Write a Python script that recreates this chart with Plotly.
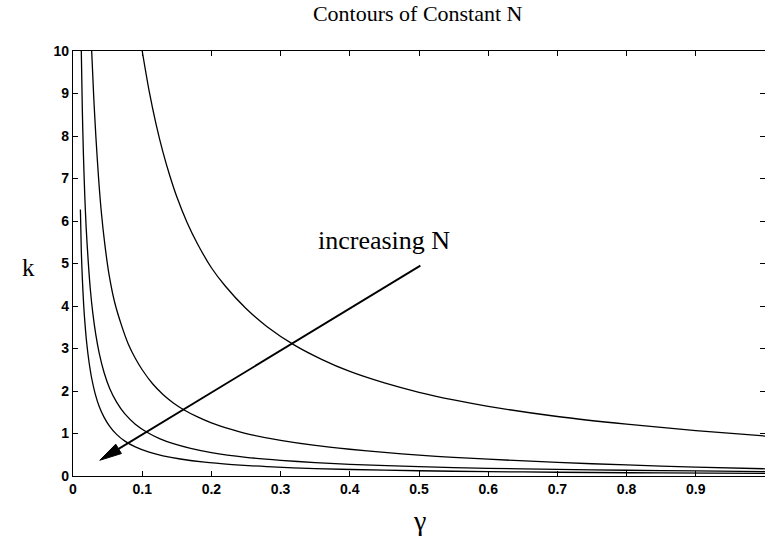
import plotly.graph_objects as go

# Contour curves (gamma, k)
gamma_A = [0.1, 0.11, 0.12, 0.13, 0.14, 0.15, 0.165, 0.18, 0.2, 0.22, 0.25, 0.28, 0.32, 0.36, 0.4, 0.45, 0.5, 0.55, 0.6, 0.7, 0.8, 0.9, 1.0]
k_A = [10, 9.06, 8.28, 7.62, 7.06, 6.57, 5.96, 5.46, 4.9, 4.47, 3.94, 3.52, 3.08, 2.74, 2.46, 2.19, 1.97, 1.79, 1.64, 1.4, 1.22, 1.07, 0.94]

gamma_C = [0.027, 0.03, 0.033, 0.037, 0.041, 0.046, 0.052, 0.06, 0.07, 0.08, 0.09, 0.1, 0.115, 0.13, 0.145, 0.16, 0.18, 0.2, 0.23, 0.26, 0.3, 0.35, 0.4, 0.45, 0.5, 0.55, 0.6, 0.7, 0.8, 0.9, 1.0]
k_C = [10, 8.9, 8.0, 7.0, 6.2, 5.45, 4.75, 4.1, 3.55, 3.1, 2.77, 2.5, 2.17, 1.92, 1.72, 1.56, 1.39, 1.25, 1.09, 0.96, 0.84, 0.72, 0.63, 0.555, 0.49, 0.44, 0.395, 0.32, 0.26, 0.21, 0.17]

gamma_D = [0.012, 0.0135, 0.015, 0.017, 0.019, 0.022, 0.025, 0.0285, 0.033, 0.038, 0.045, 0.053, 0.063, 0.075, 0.09, 0.107, 0.125, 0.145, 0.17, 0.2, 0.25, 0.3, 0.35, 0.4, 0.5, 0.6, 0.7, 0.8, 0.9, 1.0]
k_D = [10, 8.6, 7.6, 6.6, 5.85, 5.05, 4.4, 3.85, 3.32, 2.88, 2.43, 2.06, 1.74, 1.46, 1.22, 1.03, 0.88, 0.76, 0.65, 0.55, 0.44, 0.37, 0.315, 0.275, 0.22, 0.18, 0.155, 0.135, 0.12, 0.105]

gamma_E = [0.0107, 0.012, 0.0135, 0.0155, 0.0175, 0.02, 0.023, 0.027, 0.032, 0.038, 0.045, 0.053, 0.063, 0.075, 0.09, 0.11, 0.13, 0.155, 0.19, 0.23, 0.28, 0.35, 0.45, 0.55, 0.65, 0.75, 0.85, 1.0]
k_E = [6.27, 5.3, 4.65, 4.0, 3.55, 3.1, 2.7, 2.3, 1.94, 1.63, 1.38, 1.17, 0.98, 0.82, 0.685, 0.56, 0.475, 0.4, 0.325, 0.27, 0.22, 0.175, 0.137, 0.112, 0.095, 0.082, 0.073, 0.062]

arrow_tail = (0.502, 4.95)
arrow_head = (0.0387, 0.37)
label_pos = (0.449, 5.55)

x_ticks = [0, 0.1, 0.2, 0.3, 0.4, 0.5, 0.6, 0.7, 0.8, 0.9]
x_tick_labels = ["0", "0.1", "0.2", "0.3", "0.4", "0.5", "0.6", "0.7", "0.8", "0.9"]
y_ticks = [0, 1, 2, 3, 4, 5, 6, 7, 8, 9, 10]

W, H = 765, 548
ML, MR, MT, MB = 73, 0, 51, 72
X_RANGE = [0, 1]
Y_RANGE = [0, 10]
px_per_x = (W - ML - MR) / (X_RANGE[1] - X_RANGE[0])
px_per_y = (H - MT - MB) / (Y_RANGE[1] - Y_RANGE[0])

fig = go.Figure()
for gx, ky in [(gamma_A, k_A), (gamma_C, k_C), (gamma_D, k_D), (gamma_E, k_E)]:
    fig.add_trace(go.Scatter(x=gx, y=ky, mode="lines",
                             line=dict(color="black", width=1.3, shape="spline", smoothing=0.8),
                             showlegend=False, hoverinfo="skip", cliponaxis=True))

# Arrow: shaft + narrow filled head, geometry derived from arrow endpoints
dxp = (arrow_head[0] - arrow_tail[0]) * px_per_x
dyp = (arrow_head[1] - arrow_tail[1]) * px_per_y
L = (dxp ** 2 + dyp ** 2) ** 0.5
ux, uy = dxp / L, dyp / L
head_len, head_half = 22.0, 5.5
bx = arrow_head[0] - head_len * ux / px_per_x
by = arrow_head[1] - head_len * uy / px_per_y
p1 = (bx + head_half * (-uy) / px_per_x, by + head_half * ux / px_per_y)
p2 = (bx - head_half * (-uy) / px_per_x, by - head_half * ux / px_per_y)
fig.add_trace(go.Scatter(x=[arrow_tail[0], bx], y=[arrow_tail[1], by], mode="lines",
                         line=dict(color="black", width=1.8), showlegend=False, hoverinfo="skip"))
fig.add_trace(go.Scatter(x=[arrow_head[0], p1[0], p2[0], arrow_head[0]],
                         y=[arrow_head[1], p1[1], p2[1], arrow_head[1]],
                         mode="lines", fill="toself", fillcolor="black",
                         line=dict(color="black", width=1), showlegend=False, hoverinfo="skip"))

serif = "Liberation Serif"
fig.add_annotation(x=label_pos[0], y=label_pos[1], xref="x", yref="y", text="increasing N",
                   showarrow=False, xanchor="center", yanchor="middle",
                   font=dict(family=serif, size=26, color="black"))

fig.update_layout(
    width=W, height=H,
    margin=dict(l=ML, r=MR, t=MT, b=MB),
    paper_bgcolor="white", plot_bgcolor="white",
    title=dict(text="Contours of Constant N", x=0.546, xanchor="center", y=0.976, yanchor="middle",
               font=dict(family=serif, size=22, color="black")),
)
fig.update_xaxes(range=X_RANGE, tickvals=x_ticks, ticktext=x_tick_labels,
                 ticks="inside", ticklen=5, tickcolor="black", showline=True, linecolor="black",
                 linewidth=1.2, mirror="ticks", showgrid=False, zeroline=False,
                 tickfont=dict(family="Liberation Sans", size=14, color="black", weight="bold"))
fig.update_yaxes(range=Y_RANGE, tickvals=y_ticks,
                 ticks="inside", ticklen=5, tickcolor="black", showline=True, linecolor="black",
                 linewidth=1.2, mirror="ticks", showgrid=False, zeroline=False,
                 tickfont=dict(family="Liberation Sans", size=14, color="black", weight="bold"))
fig.add_annotation(x=0.501, y=-0.104, xref="paper", yref="paper", text="γ", showarrow=False,
                   xanchor="center", yanchor="middle",
                   font=dict(family=serif, size=28, color="black"))
fig.add_annotation(x=-0.065, y=4.9, xref="paper", yref="y", text="k", showarrow=False,
                   xanchor="center", yanchor="middle",
                   font=dict(family=serif, size=25, color="black"))

fig.write_html("out.html", config={"displayModeBar": False},
               post_script="document.body.style.margin='0';")
